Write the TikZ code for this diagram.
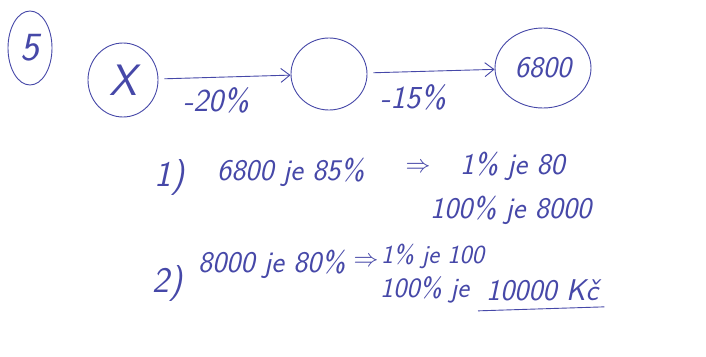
\documentclass[tikz,border=0pt]{standalone}
\usetikzlibrary{shapes.geometric,arrows.meta}
\definecolor{ink}{RGB}{70,72,168}
\newcommand{\hsz}[1]{\fontsize{#1}{#1}\selectfont}
\tikzset{
  hand/.style={text=ink,font=\sffamily\itshape\hsz{30},inner sep=0pt},
  ring/.style={draw=ink,line width=0.9pt,ellipse,inner sep=0pt,text=ink,font=\sffamily\itshape\hsz{30}},
  flow/.style={draw=ink,line width=0.9pt,-{Straight Barb[length=9pt,width=14pt]},shorten <=6pt},
  pen/.style={draw=ink,line width=0.9pt},
  impl/.style={hand,font=\hsz{24}}
}
\begin{document}
\begin{tikzpicture}[x=1pt,y=1pt]
\useasboundingbox (0,0) rectangle (706,-356);
\fill[white] (0,0) rectangle (706,-356);
% circled numbers/nodes
\node[ring,minimum width=44pt,minimum height=74pt,font=\sffamily\itshape\hsz{40}] (five) at (30,-48) {5};
\node[ring,minimum width=70pt,minimum height=74pt,font=\sffamily\itshape\hsz{44}] (x) at (123,-80) {X};
\node[ring,minimum width=76pt,minimum height=72pt] (mid) at (329,-74) {};
\node[ring,minimum width=96pt,minimum height=80pt] (end) at (543,-68) {6800};
% arrows
\draw[flow] (x) -- (mid);
\draw[flow] (mid) -- (end);
\node[hand,font=\sffamily\itshape\hsz{32}] (l1) at (216,-100) {-20\%};
\node[hand,font=\sffamily\itshape\hsz{32}] (l2) at (413,-97) {-15\%};
% line 1
\node[hand,font=\sffamily\itshape\hsz{36}] (n1) at (170,-178) {1)};
\node[hand,anchor=west] (a1) at (217,-172) {6800 je 85\%};
\node[impl] (i1) at (418,-168) {$\Rightarrow$};
\node[hand,anchor=west] (b1) at (460,-166) {1\% je 80};
\node[hand,anchor=west] (c1) at (430,-210) {100\% je 8000};
% line 2
\node[hand,font=\sffamily\itshape\hsz{36}] (n2) at (168,-284) {2)};
\node[hand,anchor=west] (a2) at (198,-264) {8000 je 80\%};
\node[impl] (i2) at (366,-262) {$\Rightarrow$};
\node[hand,anchor=west,font=\sffamily\itshape\hsz{26}] (b2) at (381,-256) {1\% je 100};
\node[hand,anchor=west,font=\sffamily\itshape\hsz{28}] (c2) at (380,-290) {100\% je};
\node[hand,anchor=west] (k2) at (486,-290) {10000 Kč};
\draw[pen] ([xshift=-8pt,yshift=-10pt]k2.south west) -- ([xshift=6pt,yshift=-6pt]k2.south east);
\end{tikzpicture}
\end{document}
